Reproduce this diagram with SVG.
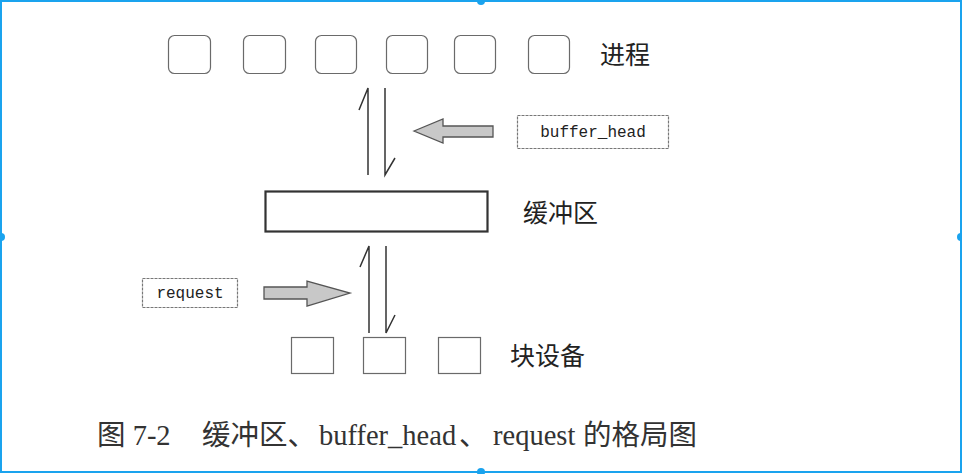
<svg xmlns="http://www.w3.org/2000/svg" width="962" height="474" viewBox="0 0 962 474">
<style>
.proc{fill:#fff;stroke:#6a6a6a;stroke-width:1.2}
.dev{fill:#fff;stroke:#6a6a6a;stroke-width:1.2}
.lbl{fill:#fff;stroke:#777;stroke-width:1.2;stroke-dasharray:3 1}
.cjk{font-family:"Noto Sans CJK SC",sans-serif;font-size:25px;fill:#222}
.mono{font-family:"Liberation Mono","DejaVu Sans Mono",monospace;font-size:16px;fill:#222}
.cap{font-family:"Liberation Serif","Noto Sans CJK SC",serif;font-size:28.5px;fill:#333}
.ln{stroke:#333;stroke-width:1.5;fill:none}
.blk{fill:#c8c8c8;stroke:#555;stroke-width:1.3}
.frame{fill:none;stroke:#1aa3ee;stroke-width:2}
.dot{fill:#1aa3ee}
</style>
<rect x="0" y="0" width="962" height="474" fill="#fff"/>
<g id="frame">
<rect class="frame" x="1" y="1" width="960" height="471"/>
<circle class="dot" cx="481" cy="1" r="4"/>
<circle class="dot" cx="481" cy="472" r="4"/>
<circle class="dot" cx="1" cy="237" r="4"/>
<circle class="dot" cx="961" cy="237" r="4"/>
</g>
<g id="processes">
<rect class="proc" x="168.5" y="35.5" width="42" height="38" rx="6"/>
<rect class="proc" x="243.5" y="35.5" width="42" height="38" rx="6"/>
<rect class="proc" x="315.5" y="35.5" width="41" height="38" rx="6"/>
<rect class="proc" x="386.5" y="35.5" width="41" height="38" rx="6"/>
<rect class="proc" x="454.5" y="35.5" width="41" height="38" rx="6"/>
<rect class="proc" x="528.5" y="35.5" width="41" height="38" rx="6"/>
<text class="cjk" x="600" y="64">进程</text>
</g>
<g id="buffer_head">
<rect class="lbl" x="517.5" y="115.5" width="151" height="33"/>
<text class="mono" x="593" y="136.5" text-anchor="middle">buffer_head</text>
</g>
<g id="buffer">
<rect x="265.5" y="191.5" width="222" height="40" fill="#fff" stroke="#333" stroke-width="2.2"/>
<text class="cjk" x="523" y="221.5">缓冲区</text>
</g>
<g id="request">
<rect class="lbl" x="142.5" y="278.5" width="95" height="29"/>
<text class="mono" x="190" y="298" text-anchor="middle">request</text>
</g>
<g id="devices">
<rect class="dev" x="291.5" y="337.5" width="42" height="36"/>
<rect class="dev" x="363.5" y="337.5" width="42" height="36"/>
<rect class="dev" x="438.5" y="337.5" width="42" height="36"/>
<text class="cjk" x="510" y="364.5">块设备</text>
</g>
<g id="connectors">
<path class="ln" d="M368,175 L368,88 L359,110"/>
<path class="ln" d="M385,88 L385,175 L395,158"/>
<path class="ln" d="M369,333 L369,246 L360,267"/>
<path class="ln" d="M386,246 L386,333 L395,315"/>
<polygon class="blk" points="414,131 443,119 443,126 493,126 493,137 443,137 443,143"/>
<polygon class="blk" points="264,287 307,287 307,281 350,293 307,306 307,299 264,299"/>
</g>
<g id="caption">
<text class="cap" y="445"><tspan x="97">图 7-2</tspan><tspan x="202">缓冲区、</tspan><tspan x="319">buffer_head</tspan><tspan x="459">、</tspan><tspan x="493">request</tspan><tspan x="583">的格局图</tspan></text>
</g>
</svg>
